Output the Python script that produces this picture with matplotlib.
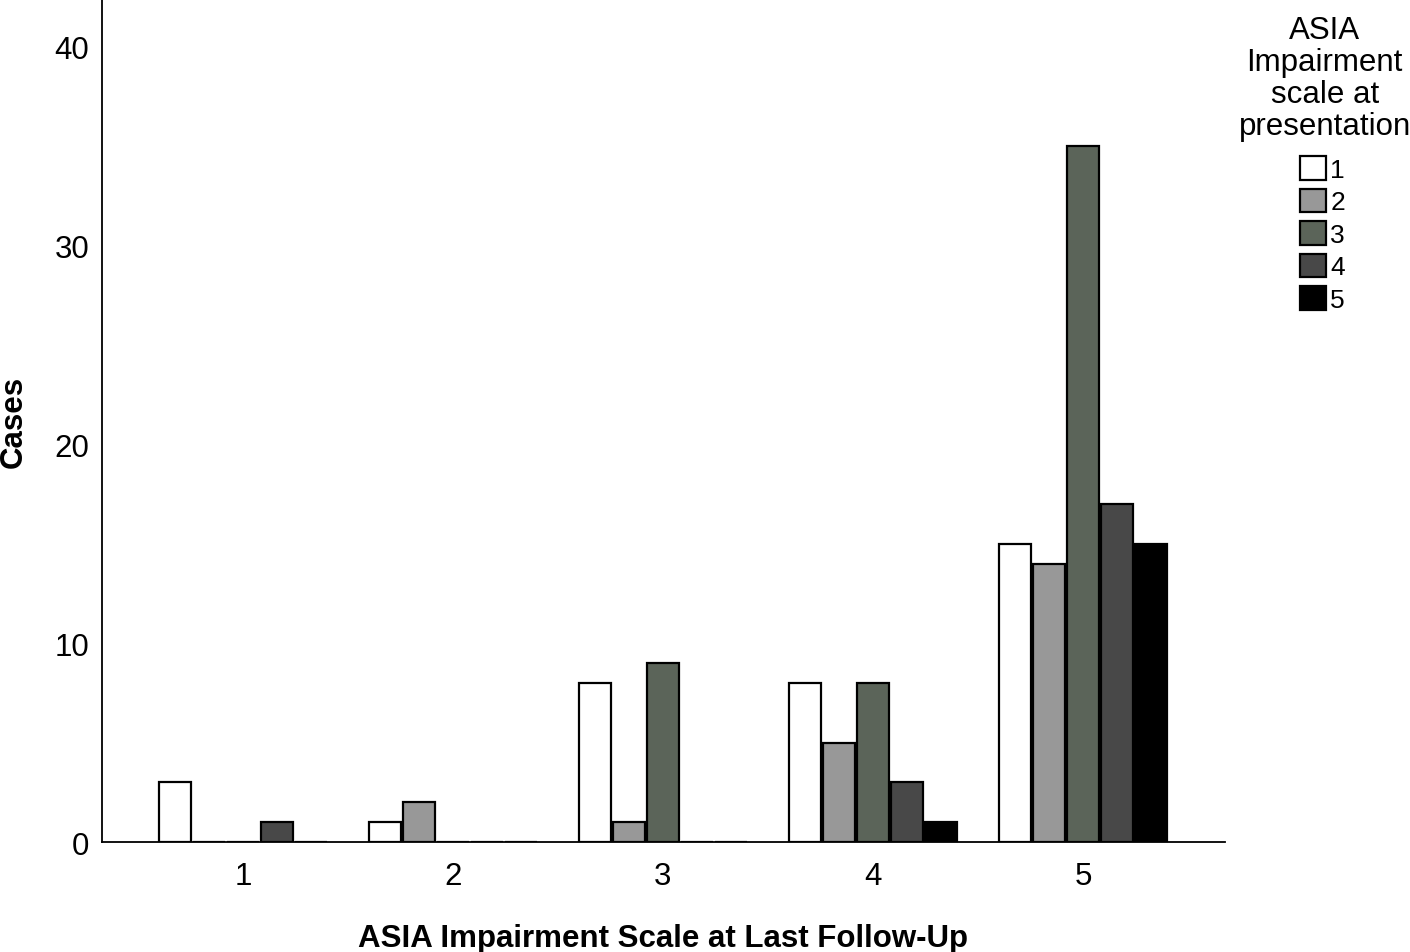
"""Grouped bar chart: ASIA impairment scale at last follow-up vs presentation."""

import matplotlib

matplotlib.use("Agg")
import matplotlib.pyplot as plt
import numpy as np

# ASIA scale at last follow-up (x categories)
followup = ["1", "2", "3", "4", "5"]
# one series per ASIA scale at presentation
presentation = ["1", "2", "3", "4", "5"]
cases_pres1 = [3, 1, 8, 8, 15]
cases_pres2 = [0, 2, 1, 5, 14]
cases_pres3 = [0, 0, 9, 8, 35]
cases_pres4 = [1, 0, 0, 3, 17]
cases_pres5 = [0, 0, 0, 1, 15]

colors = ["#ffffff", "#989898", "#5b6459", "#484848", "#000000"]

plt.rcParams["font.family"] = ["Liberation Sans", "DejaVu Sans"]

fig = plt.figure(figsize=(14.1, 9.53), dpi=100)
ax = fig.add_axes([0.0723, 0.1154, 0.7965, 0.8846])

series = [cases_pres1, cases_pres2, cases_pres3, cases_pres4, cases_pres5]
x = np.arange(1, len(followup) + 1)
step = 0.162
width = 0.152
for i, (vals, col, lab) in enumerate(zip(series, colors, presentation)):
    ax.bar(x + (i - 2) * step, vals, width=width, color=col, edgecolor="black",
           linewidth=1.6, label=lab, zorder=3)

ax.set_xlim(0.329, 5.676)
ax.set_ylim(0, 42.4)
ax.set_xticks(x)
ax.set_xticklabels(followup)
ax.set_yticks([0, 10, 20, 30, 40])
ax.tick_params(length=0, labelsize=22.5, pad=9)
ax.tick_params(axis="x", pad=14)
for side in ("top", "right"):
    ax.spines[side].set_visible(False)
for side in ("left", "bottom"):
    ax.spines[side].set_linewidth(1.3)

ax.set_xlabel("ASIA Impairment Scale at Last Follow-Up", fontsize=22.5,
              fontweight="bold", va="center")
ax.set_ylabel("Cases", fontsize=22.5, fontweight="bold", va="center")
ax.xaxis.set_label_coords(0.5, -0.114)
ax.yaxis.set_label_coords(-0.0784, 0.5)

# legend title drawn separately so its spacing can match
fig.text(0.9395, 1 - 79 / 953, "ASIA\nImpairment\nscale at\npresentation",
         ha="center", va="center", multialignment="center", fontsize=22.5,
         linespacing=1.1)
fig.legend(loc="center", bbox_to_anchor=(0.938, 1 - 235 / 953), frameon=False,
           fontsize=19, handlelength=1.0, handleheight=1.0,
           handletextpad=0.15, labelspacing=0.25)

fig.savefig("out.png", dpi=100)
